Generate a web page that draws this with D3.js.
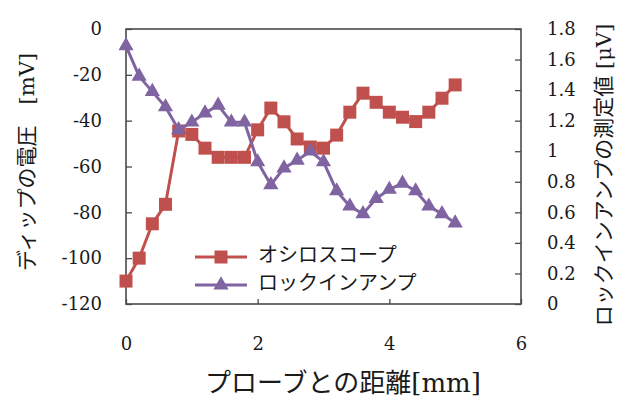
<!DOCTYPE html>
<html><head><meta charset="utf-8">
<script src="https://cdn.jsdelivr.net/npm/d3@7/dist/d3.min.js"></script>
<style>
html,body{margin:0;padding:0;background:#fff;}
svg text{fill:#1a1a1a;}
</style></head>
<body>
<svg id="chart" width="628" height="399"></svg>
<script>
// ---- data ----
const distance = [0,0.2,0.4,0.6,0.8,1.0,1.2,1.4,1.6,1.8,2.0,2.2,2.4,2.6,2.8,3.0,3.2,3.4,3.6,3.8,4.0,4.2,4.4,4.6,4.8,5.0];
const oscilloscope = [-110,-100,-85,-76.5,-44.5,-46,-52,-56,-56,-56,-44,-34.5,-40.5,-48,-51.5,-52,-46.3,-36.3,-28,-32,-36.3,-38.5,-40.4,-36.3,-30.2,-24.4];
const lockin = [1.69,1.49,1.39,1.29,1.14,1.19,1.25,1.30,1.19,1.19,0.93,0.78,0.89,0.94,1.0,0.93,0.74,0.64,0.59,0.69,0.75,0.79,0.74,0.64,0.59,0.53];
const seriesNames = ["オシロスコープ","ロックインアンプ"];
const xTicks = [0,2,4,6];
const leftTicks = [0,-20,-40,-60,-80,-100,-120];
const rightTicks = [0,0.2,0.4,0.6,0.8,1,1.2,1.4,1.6,1.8];
const xTitle = "プローブとの距離[mm]";
const leftTitle = "ディップの電圧\u3000[mV]";
const rightTitle = "ロックインアンプの測定値 [μV]";

const red = "#C0504D", purple = "#8064A2";
const numFont = "'DejaVu Serif', serif";
const jpFont = "'DejaVu Serif', 'Noto Sans CJK JP', serif";

const L = 126, R = 521, T = 29, B = 304;
const svg = d3.select("#chart");
const x = d3.scaleLinear().domain([0,6]).range([L,R]);
const yL = d3.scaleLinear().domain([-120,0]).range([B,T]);
const yR = d3.scaleLinear().domain([0,1.8]).range([B,T]);

// axes
const axColor = "#4a4a4a";
function styleAxis(g){
  g.select(".domain").remove();
  g.selectAll(".tick line").attr("stroke",axColor).attr("stroke-width",1.3);
  g.selectAll(".tick text").attr("font-family",numFont).attr("font-size",18).attr("fill","#1a1a1a");
}
const gl = svg.append("g").attr("transform",`translate(${L},0)`)
  .call(d3.axisLeft(yL).tickValues(leftTicks).tickSizeInner(-6).tickSizeOuter(0).tickPadding(24)
        .tickFormat(d => d === 0 ? "0" : "-" + Math.abs(d)));
styleAxis(gl);
const gr = svg.append("g").attr("transform",`translate(${R},0)`)
  .call(d3.axisRight(yR).tickValues(rightTicks).tickSizeInner(-6).tickSizeOuter(0).tickPadding(26)
        .tickFormat(d => d3.format("")(+d.toFixed(1))));
styleAxis(gr);
const gb = svg.append("g").attr("transform",`translate(0,${B})`)
  .call(d3.axisBottom(x).tickValues(xTicks).tickSizeInner(-5).tickSizeOuter(0).tickPadding(33).tickFormat(d3.format("d")));
styleAxis(gb);

// frame
svg.append("rect").attr("x",L).attr("y",T).attr("width",R-L).attr("height",B-T)
  .attr("fill","none").attr("stroke",axColor).attr("stroke-width",1.6);

// series
const sq = d3.symbol().type(d3.symbolSquare).size(169);
const tri = d3.symbol().type(d3.symbolTriangle).size(100);
const redLine = d3.line().x((d,i)=>x(distance[i])).y(d=>yL(d));
const purLine = d3.line().x((d,i)=>x(distance[i])).y(d=>yR(d));

svg.append("path").datum(oscilloscope).attr("d",redLine).attr("fill","none").attr("stroke",red).attr("stroke-width",3).attr("stroke-linejoin","round");
svg.append("g").selectAll("path").data(oscilloscope).join("path")
  .attr("d",sq).attr("transform",(d,i)=>`translate(${x(distance[i])},${yL(d)})`).attr("fill",red);

svg.append("path").datum(lockin).attr("d",purLine).attr("fill","none").attr("stroke",purple).attr("stroke-width",3).attr("stroke-linejoin","round");
svg.append("g").selectAll("path").data(lockin).join("path")
  .attr("d",tri).attr("transform",(d,i)=>`translate(${x(distance[i])},${yR(d)})`).attr("fill",purple);

// legend
const leg = [{c:red,s:sq,y:257},{c:purple,s:tri,y:285}];
leg.forEach((l,i)=>{
  svg.append("line").attr("x1",195).attr("x2",247).attr("y1",l.y).attr("y2",l.y).attr("stroke",l.c).attr("stroke-width",3);
  svg.append("path").attr("d",l.s).attr("transform",`translate(221,${l.y})`).attr("fill",l.c);
  svg.append("text").attr("x",258).attr("y",l.y-2).attr("dominant-baseline","central")
    .attr("font-family",jpFont).attr("font-size",20).text(seriesNames[i]);
});

// titles
svg.append("text").attr("x",343).attr("y",383).attr("text-anchor","middle").attr("dominant-baseline","central")
  .attr("font-family",jpFont).attr("font-size",26).text(xTitle);
svg.append("text").attr("transform","translate(27,162) rotate(-90)").attr("text-anchor","middle").attr("dominant-baseline","central")
  .attr("font-family",jpFont).attr("font-size",21).text(leftTitle);
svg.append("text").attr("transform","translate(604,175) rotate(-90)").attr("text-anchor","middle").attr("dominant-baseline","central")
  .attr("font-family",jpFont).attr("font-size",21).text(rightTitle);
</script>
</body></html>
